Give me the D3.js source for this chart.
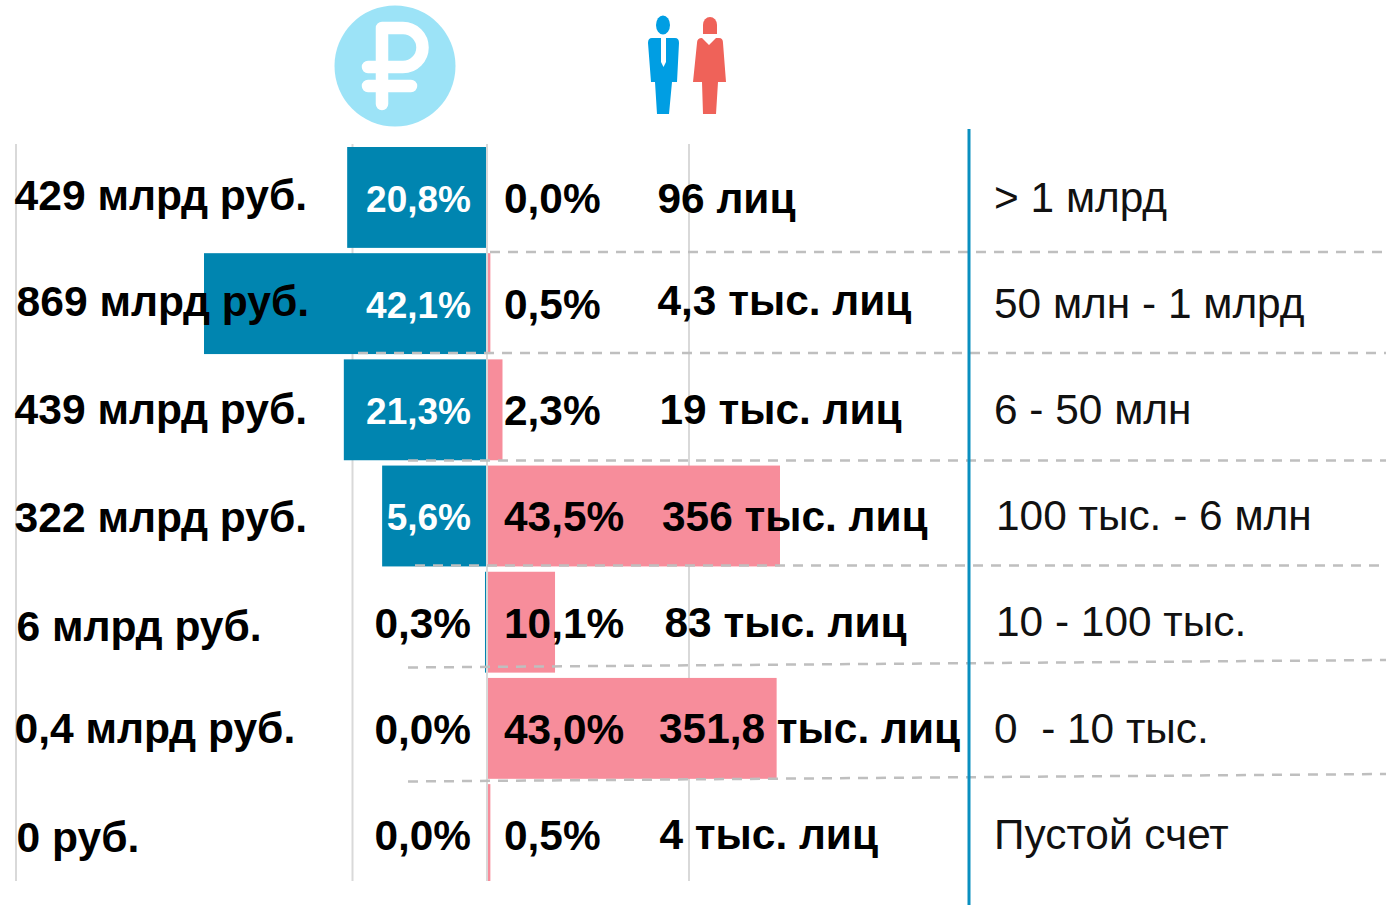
<!DOCTYPE html>
<html>
<head>
<meta charset="utf-8">
<script src="https://cdn.jsdelivr.net/npm/d3@7"></script>
<style>
  html, body { margin: 0; padding: 0; background: #fff; overflow: hidden; }
  text { font-family: "Liberation Sans", Arial, sans-serif; }
</style>
</head>
<body>
<div id="chart"></div>
<script>
// Data
var amountLabels = ["429 млрд руб.", "869 млрд руб.", "439 млрд руб.", "322 млрд руб.", "6 млрд руб.", "0,4 млрд руб.", "0 руб."];
var moneyValues = [20.8, 42.1, 21.3, 15.6, 0.3, 0, 0];
var moneyLabels = ["20,8%", "42,1%", "21,3%", "5,6%", "0,3%", "0,0%", "0,0%"];
var peopleValues = [0, 0.5, 2.3, 43.5, 10.1, 43.0, 0.5];
var peopleLabels = ["0,0%", "0,5%", "2,3%", "43,5%", "10,1%", "43,0%", "0,5%"];
var countLabels = ["96 лиц", "4,3 тыс. лиц", "19 тыс. лиц", "356 тыс. лиц", "83 тыс. лиц", "351,8 тыс. лиц", "4 тыс. лиц"];
var rangeLabels = ["> 1 млрд", "50 млн - 1 млрд", "6 - 50 млн", "100 тыс. - 6 млн", "10 - 100 тыс.", "0  - 10 тыс.", "Пустой счет"];
var rows = d3.range(amountLabels.length);

// Hand placed label offsets, the original slide was not aligned either
var amountX = [14.5, 16.5, 14.5, 14.5, 16.5, 14.5, 16.5];
var amountY = [210, 316, 424, 532, 641, 743, 852];
var moneyY = [212, 318, 424, 530, 638, 744, 850];
var peopleY = [213, 319, 425, 531, 638, 744, 850];
var countX = [657.5, 657.5, 659.5, 662, 664.5, 659, 659.5];
var countY = [213, 315, 424, 531, 637, 743, 849];
var rangeX = [994, 994, 994, 996, 996, 994, 994];
var rangeY = [212, 318, 424, 530, 636, 743, 849];

var svgWidth = 1386;
var svgHeight = 905;
var zeroX = 487;
var plotBottom = 881;

var svg = d3.select("#chart")
    .append("svg")
    .attr("width", svgWidth)
    .attr("height", svgHeight)
    .style("display", "block");

// Step 1: scales
var xLeft = d3.scaleLinear().domain([0, 42.1]).range([zeroX, 204]);
var xRight = d3.scaleLinear().domain([0, 43.5]).range([zeroX, 780]);
var y = d3.scaleBand().domain(rows).range([147, 885]).paddingInner(0.05).paddingOuter(0);

svg.append("clipPath").attr("id", "plotClip")
    .append("rect").attr("x", 0).attr("y", 0).attr("width", svgWidth).attr("height", plotBottom);

// Step 2: vertical grid lines behind the bars
svg.selectAll(".grid")
    .data([16, 352.5, 689])
    .enter()
    .append("line")
    .attr("class", "grid")
    .attr("x1", d => d).attr("x2", d => d)
    .attr("y1", 144).attr("y2", plotBottom)
    .attr("stroke", "#d9d9d9")
    .attr("stroke-width", 2);

// Step 3: bars
var bars = svg.append("g").attr("clip-path", "url(#plotClip)");

bars.selectAll(".money")
    .data(rows)
    .enter()
    .append("rect")
    .attr("class", "money")
    .attr("x", d => xLeft(moneyValues[d]))
    .attr("y", d => y(d))
    .attr("width", d => zeroX - xLeft(moneyValues[d]))
    .attr("height", y.bandwidth())
    .attr("fill", "#0085b0");

bars.selectAll(".people")
    .data(rows)
    .enter()
    .append("rect")
    .attr("class", "people")
    .attr("x", zeroX)
    .attr("y", d => y(d))
    .attr("width", d => xRight(peopleValues[d]) - zeroX)
    .attr("height", y.bandwidth())
    .attr("fill", "#f78d9b");

svg.append("line")
    .attr("x1", zeroX).attr("x2", zeroX)
    .attr("y1", 144).attr("y2", plotBottom)
    .attr("stroke", "#d9d9d9")
    .attr("stroke-width", 2);

// Step 4: dashed row separators (they lean a little at the bottom)
var separators = [
    [490, 252, 1386, 252],
    [358, 353, 1386, 353],
    [408, 460.5, 1386, 460.5],
    [415, 565.5, 1386, 565.5],
    [408, 667.5, 1386, 660],
    [408, 781.5, 1386, 774]
];
svg.selectAll(".sep")
    .data(separators)
    .enter()
    .append("line")
    .attr("class", "sep")
    .attr("x1", d => d[0]).attr("y1", d => d[1])
    .attr("x2", d => d[2]).attr("y2", d => d[3])
    .attr("stroke", "#bfbfbf")
    .attr("stroke-width", 2.5)
    .attr("stroke-dasharray", "10,8");

svg.append("line")
    .attr("x1", 969).attr("x2", 969)
    .attr("y1", 129).attr("y2", svgHeight)
    .attr("stroke", "#0a8fc0")
    .attr("stroke-width", 3);

// Step 5: labels
function addLabels(cls, labels, xf, yf, opts) {
    svg.selectAll("." + cls)
        .data(rows)
        .enter()
        .append("text")
        .attr("class", cls)
        .attr("x", xf)
        .attr("y", yf)
        .attr("font-size", opts.size)
        .attr("font-weight", opts.weight)
        .attr("text-anchor", opts.anchor || "start")
        .attr("fill", opts.fill || "#000")
        .style("white-space", "pre")
        .text(d => labels[d]);
}

addLabels("amount", amountLabels, d => amountX[d], d => amountY[d], {size: 42.6, weight: "bold"});
addLabels("moneyLabel", moneyLabels, 471, d => moneyY[d], {
    size: 37, weight: "bold", anchor: "end"
});
svg.selectAll(".moneyLabel").filter(d => d < 4)
    .attr("fill", "#fff");
svg.selectAll(".moneyLabel").filter(d => d >= 4)
    .attr("font-size", 42.4);
addLabels("peopleLabel", peopleLabels, 504, d => peopleY[d], {size: 42.4, weight: "bold"});
addLabels("count", countLabels, d => countX[d], d => countY[d], {size: 42.4, weight: "bold"});
addLabels("range", rangeLabels, d => rangeX[d], d => rangeY[d], {size: 42.4, weight: "normal", fill: "#111"});

// Step 6: icons
var ruble = svg.append("g");
ruble.append("circle").attr("cx", 395).attr("cy", 66).attr("r", 60.5).attr("fill", "#9ce3f7");
ruble.append("path")
    .attr("d", "M382,104V28H403A19.5,19.5 0 0 1 403,67H368M368,86H411")
    .attr("fill", "none")
    .attr("stroke", "#fff")
    .attr("stroke-width", 12.5)
    .attr("stroke-linecap", "round")
    .attr("stroke-linejoin", "round");

var man = svg.append("g").attr("fill", "#009ee3");
man.append("ellipse").attr("cx", 663).attr("cy", 25).attr("rx", 7).attr("ry", 9.5);
man.append("path").attr("d", "M652,38H675Q679,38 679,43L677,82H672L669,114H657L655,82H651L648,43Q648,38 652,38Z");
svg.append("path").attr("fill", "#fff").attr("d", "M661,38H666V62L663.5,67L661,62Z");

var woman = svg.append("g").attr("fill", "#ef6259");
woman.append("path").attr("d", "M703,34V25A7,8 0 0 1 717,25V34Z");
woman.append("path").attr("d", "M702,38L709,45L716,38H719Q723,38 723,43L726,82H718L716,114H703L702,82H693L697,43Q697,38 702,38Z");
</script>
</body>
</html>
